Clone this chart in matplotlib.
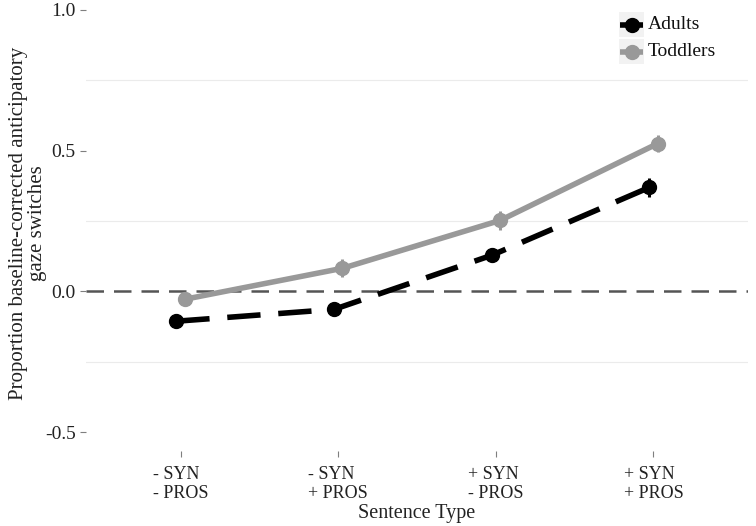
import matplotlib
matplotlib.use("Agg")
import matplotlib.pyplot as plt
from matplotlib.patches import Rectangle
from matplotlib.lines import Line2D
import numpy as np

plt.rcParams['font.family'] = ['Liberation Serif', 'DejaVu Serif']

categories = ["- SYN\n- PROS", "- SYN\n+ PROS", "+ SYN\n- PROS", "+ SYN\n+ PROS"]
adults = [-0.106, -0.064, 0.128, 0.369]
adults_err = [0.012, 0.012, 0.025, 0.032]
toddlers = [-0.028, 0.082, 0.252, 0.525]
toddlers_err = [0.022, 0.032, 0.035, 0.030]
series_names = ['Adults', 'Toddlers']
series_colors = ['black', '#999999']

W, H = 756, 526
fig = plt.figure(figsize=(W/100, H/100), dpi=100)
ax = fig.add_axes([86/W, 75/H, 662/W, 451/H])

x = np.arange(len(categories))
dodge = 0.027

for v in [0.75, 0.25, -0.25]:
    ax.axhline(v, color='#ebebeb', lw=0.8, zorder=0)
ax.axhline(0, color='#555555', lw=1.8, dashes=(7, 4), zorder=1)

ax.errorbar(x + dodge, toddlers, yerr=toddlers_err, color=series_colors[1], lw=4.0,
            elinewidth=2.2, marker='o', markersize=10, capsize=0, zorder=2)
ax.errorbar(x - dodge, adults, yerr=adults_err, color=series_colors[0], lw=4.0,
            elinewidth=2.2, marker='o', markersize=10, capsize=0,
            dashes=(6, 3.2), zorder=3)

ax.set_xlim(-0.6, 3.6)
ax.set_ylim(-0.567, 1.035)
ax.set_yticks([-0.5, 0.0, 0.5, 1.0])
ax.set_yticklabels(['-0.5', '0.0', '0.5', '1.0'])
ax.set_xticks(x)
ax.set_xticklabels(categories, linespacing=1.1, multialignment='left')
for s in ax.spines.values():
    s.set_visible(False)
ax.tick_params(axis='both', colors='#7f7f7f', labelcolor='#222222', length=4, width=0.8)
ax.tick_params(axis='y', labelsize=14)
ax.tick_params(axis='x', labelsize=13, pad=7)
ax.set_xlabel('Sentence Type', fontsize=14.5, color='#222222')
ax.xaxis.set_label_coords(0.5, -(504 - 451) / 451)
ax.set_ylabel('Proportion baseline-corrected anticipatory\ngaze switches', fontsize=15,
              color='#222222', linespacing=1.0)
ax.yaxis.set_label_coords((47 - 86) / 662, 0.505)

# legend (ggplot-style keys with grey background)
for i, (name, col) in enumerate(zip(series_names, series_colors)):
    top = 12 + i * 27
    fig.patches.append(Rectangle((619/W, 1 - (top + 25)/H), 25/W, 25/H,
                                 transform=fig.transFigure, facecolor='#f2f2f2',
                                 edgecolor='none'))
    yc = 1 - (top + 12.5)/H
    fig.lines.append(Line2D([620/W, 643/W], [yc, yc], transform=fig.transFigure,
                            color=col, lw=4.0, solid_capstyle='butt'))
    fig.lines.append(Line2D([631.5/W], [yc], transform=fig.transFigure, color=col,
                            marker='o', markersize=10, lw=0))
    fig.text(648/W, yc, name, fontsize=14, va='center', ha='left', color='#111111')

fig.savefig('out.png', dpi=100)
